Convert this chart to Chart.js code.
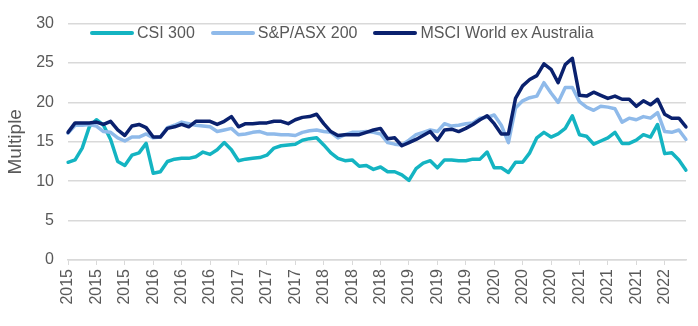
<!DOCTYPE html>
<html>
<head>
<meta charset="utf-8">
<script src="https://cdn.jsdelivr.net/npm/chart.js"></script>
<style>
  body { margin: 0; background: #fff; }
  #wrap { position: relative; width: 698px; height: 326px; }
  #legend {
    position: absolute; top: 22px; left: 90px; height: 22px;
    font-family: 'Liberation Sans', Arial, sans-serif; font-size: 16px; color: #595959;
    display: flex; align-items: center; white-space: nowrap;
  }
  .item { display: flex; align-items: center; margin-right: 16px; }
  .swatch { width: 44px; height: 4px; border-radius: 2px; margin-right: 3px; }
</style>
</head>
<body>
<div id="wrap">
  <canvas id="chart" width="698" height="326"></canvas>
  <div id="legend"></div>
</div>
<script>
// monthly P/E multiples, Jan 2015 - Apr 2022
const startYear = 2015;
const monthCount = 88;

// one tick label every 4 months
const tickLabels = ['2015', '2015', '2015', '2016', '2016', '2016', '2017', '2017', '2017',
    '2018', '2018', '2018', '2019', '2019', '2019', '2020', '2020', '2020',
    '2021', '2021', '2021', '2022'];

const csi300 = [12.4, 12.7, 14.2, 16.9, 17.8, 17.1, 15.3, 12.5, 12.0, 13.3, 13.6, 14.8, 11.0, 11.2, 12.5, 12.8, 12.9, 12.9,
    13.1, 13.7, 13.4, 14.0, 14.9, 14.0, 12.6, 12.8, 12.9, 13.0, 13.3, 14.2, 14.5, 14.6, 14.7, 15.2, 15.4,
    15.5, 14.6, 13.6, 12.9, 12.6, 12.7, 11.9, 12.0, 11.5, 11.8, 11.2, 11.2, 10.8, 10.1, 11.6, 12.3, 12.6,
    11.7, 12.7, 12.7, 12.6, 12.6, 12.8, 12.8, 13.7, 11.7, 11.7, 11.1, 12.4, 12.4, 13.6, 15.5, 16.2, 15.6,
    16.0, 16.7, 18.3, 15.9, 15.7, 14.7, 15.1, 15.5, 16.2, 14.8, 14.8, 15.2, 15.9, 15.6, 17.2, 13.5, 13.6, 12.7, 11.4];

const asx200 = [16.1, 17.1, 17.1, 17.2, 17.0, 16.3, 16.2, 15.5, 15.1, 15.6, 15.6, 16.0, 15.5, 15.6, 16.8, 17.1, 17.5, 17.3,
    17.1, 17.0, 16.9, 16.3, 16.5, 16.7, 15.9, 16.0, 16.2, 16.3, 16.0, 16.0, 15.9, 15.9, 15.8, 16.2, 16.4,
    16.5, 16.3, 16.2, 15.5, 15.9, 16.2, 16.2, 16.3, 16.2, 16.0, 14.9, 14.7, 14.6, 15.2, 15.9, 16.2, 16.5,
    16.3, 17.3, 17.0, 17.1, 17.3, 17.4, 18.0, 18.1, 18.4, 17.1, 14.9, 19.3, 20.2, 20.6, 20.8, 22.5, 21.2,
    20.0, 21.9, 21.9, 20.1, 19.4, 19.0, 19.5, 19.4, 19.2, 17.5, 18.0, 17.8, 18.2, 18.0, 18.7, 16.3, 16.2, 16.5, 15.3];

const msciWorld = [16.2, 17.4, 17.4, 17.4, 17.5, 17.2, 17.6, 16.5, 15.8, 17.0, 17.2, 16.8, 15.6, 15.6, 16.7, 16.9, 17.2, 16.9,
    17.6, 17.6, 17.6, 17.2, 17.6, 18.2, 16.9, 17.3, 17.3, 17.4, 17.4, 17.6, 17.6, 17.3, 17.8, 18.1, 18.2,
    18.5, 17.3, 16.3, 15.8, 15.9, 15.9, 15.9, 16.2, 16.5, 16.7, 15.4, 15.5, 14.5, 14.9, 15.3, 15.8, 16.3,
    15.2, 16.5, 16.6, 16.3, 16.7, 17.2, 17.8, 18.3, 17.3, 16.0, 16.0, 20.5, 22.1, 22.9, 23.4, 24.9, 24.2,
    22.5, 24.8, 25.6, 20.9, 20.8, 21.3, 20.9, 20.5, 20.8, 20.4, 20.4, 19.5, 20.2, 19.7, 20.4, 18.5, 18.0, 18.0, 16.9];

const seriesNames = ['CSI 300', 'S&P/ASX 200', 'MSCI World ex Australia'];
const seriesColors = ['#14B4C2', '#8FBAEA', '#0A216E'];

// category labels "YYYY-MM"
const months = [];
for (let i = 0; i < monthCount; i++) {
    const y = startYear + Math.floor(i / 12);
    const m = (i % 12) + 1;
    months.push(y + '-' + (m < 10 ? '0' + m : m));
}

Chart.defaults.font.family = "'Liberation Sans', Arial, sans-serif";
Chart.defaults.font.size = 16;
Chart.defaults.color = '#595959';

const seriesData = [csi300, asx200, msciWorld];
const datasets = seriesNames.map((name, i) => ({
    label: name,
    data: seriesData[i],
    borderColor: seriesColors[i],
    backgroundColor: seriesColors[i],
    borderWidth: 3.5,
    pointRadius: 0,
    tension: 0,
    borderJoinStyle: 'round',
    borderCapStyle: 'round',
    order: 2 - i   // MSCI on top, like Excel
}));

new Chart(document.getElementById('chart'), {
    type: 'line',
    data: { labels: months, datasets: datasets },
    options: {
        responsive: false,
        animation: false,
        layout: { padding: { left: 0, right: 12, top: 20, bottom: 0 } },
        plugins: {
            legend: { display: false },
            tooltip: { enabled: false }
        },
        scales: {
            x: {
                offset: false,
                grid: { drawOnChartArea: false, drawTicks: true, tickLength: 5, color: '#d9d9d9' },
                border: { color: '#d9d9d9', width: 1.5 },
                ticks: {
                    autoSkip: false,
                    maxRotation: 90,
                    minRotation: 90,
                    padding: 4,
                    callback: function (val, idx) {
                        return idx % 4 === 0 ? tickLabels[idx / 4] : null;
                    }
                },
                afterFit: function (scale) { scale.height = 66; }
            },
            y: {
                min: 0,
                max: 30,
                ticks: { stepSize: 5, padding: 14 },
                grid: { color: '#d9d9d9', lineWidth: 1.5, drawTicks: false },
                border: { display: false },
                title: { display: true, text: 'Multiple', font: { size: 19 }, padding: { top: 4, bottom: 0 } },
                afterFit: function (scale) { scale.width = 68; }
            }
        }
    }
});

// legend drawn as html so it can sit inside the plot like the original
const legend = document.getElementById('legend');
seriesNames.forEach((name, i) => {
    const item = document.createElement('div');
    item.className = 'item';
    item.innerHTML = '<span class="swatch" style="background:' + seriesColors[i] + '"></span>' + name;
    legend.appendChild(item);
});
</script>
</body>
</html>
